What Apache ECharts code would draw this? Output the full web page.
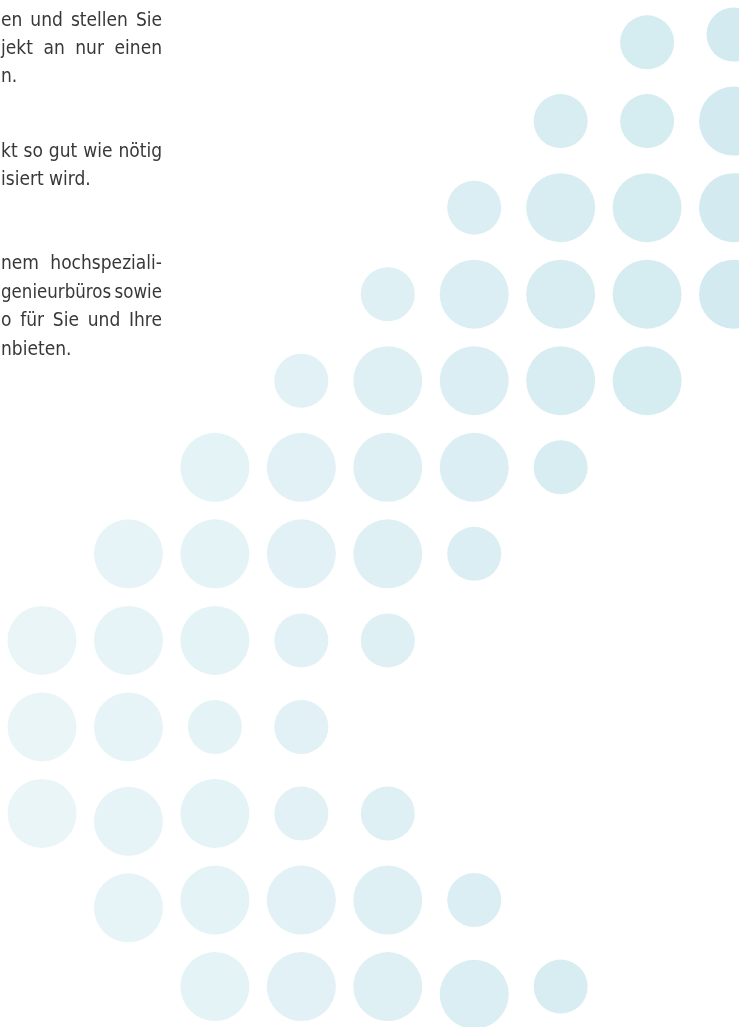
<!DOCTYPE html>
<html>
<head>
<meta charset="utf-8">
<style>
html,body{margin:0;padding:0;background:#ffffff;}
#chart{width:739px;height:1027px;}
</style>
<script src="https://cdn.jsdelivr.net/npm/echarts@6/dist/echarts.min.js"></script>
</head>
<body>
<div id="chart"></div>
<script>
// ---- data: dot grid (column index, row index, dot kind) ----
const dotCols  = [7, 8,  6, 7, 8,  5, 6, 7, 8,  4, 5, 6, 7, 8,  3, 4, 5, 6, 7,  2, 3, 4, 5, 6,  1, 2, 3, 4, 5,  0, 1, 2, 3, 4,  0, 1, 2, 3,  0, 1, 2, 3, 4,  1, 2, 3, 4, 5,  2, 3, 4, 5, 6];
const dotRows  = [0.09, 0,  1, 1, 1,  2, 2, 2, 2,  3, 3, 3, 3, 3,  4, 4, 4, 4, 4,  5, 5, 5, 5, 5,  6, 6, 6, 6, 6,  7, 7, 7, 7, 7,  8, 8, 8, 8,  9, 9.09, 9, 9, 9,  10.09, 10, 10, 10, 10,  11, 11, 11, 11.09, 11];
const dotKinds = ['S','S',  'S','S','L',  'S','L','L','L',  'S','L','L','L','L',  'S','L','L','L','L',  'L','L','L','L','S',  'L','L','L','L','S',  'L','L','L','S','S',  'L','L','S','S',  'L','L','L','S','S',  'L','L','L','L','S',  'L','L','L','L','S'];

// ---- text fragments (cropped paragraphs) ----
const textLines = ['en und stellen Sie', 'jekt an nur einen', 'n.', 'kt so gut wie nötig', 'isiert wird.', 'nem hochspeziali-', 'genieurbüros sowie', 'o für Sie und Ihre', 'nbieten.'];
const textJustified = [true, true, false, true, false, true, true, true, false];

// ---- layout / style ----
const textBaselines = [27, 55, 83, 158, 186, 270, 298.5, 327, 355.5];
const FONT_FAMILY = '"DejaVu Sans Condensed", "DejaVu Sans", sans-serif';
const FONT_SIZE = 19;
const FONT = FONT_SIZE + 'px ' + FONT_FAMILY;
const TEXT_LEFT = 1, TEXT_RIGHT = 162, MIN_GAP = 3.5;
const TEXT_COLOR = '#383838';
const kindSize = {L: 69, S: 54};

const chart = echarts.init(document.getElementById('chart'), null, {renderer: 'canvas'});

const dotData = dotCols.map((c, i) => ({
  value: [c, dotRows[i]],
  symbolSize: kindSize[dotKinds[i]]
}));

// build justified text elements
const mctx = document.createElement('canvas').getContext('2d');
mctx.font = FONT;
const graphics = [];
textLines.forEach((line, li) => {
  const y = textBaselines[li] - 0.297 * FONT_SIZE;
  if (!textJustified[li]) {
    graphics.push({type: 'text', x: TEXT_LEFT, y: y, silent: true,
      style: {text: line, font: FONT, fill: TEXT_COLOR, align: 'left', verticalAlign: 'middle'}});
    return;
  }
  const words = line.split(' ');
  const widths = words.map(w => mctx.measureText(w).width);
  const total = widths.reduce((a, b) => a + b, 0);
  const avail = TEXT_RIGHT - TEXT_LEFT;
  let gap = (avail - total) / (words.length - 1);
  let sx = 1;
  if (gap < MIN_GAP) {
    gap = MIN_GAP;
    sx = avail / (total + MIN_GAP * (words.length - 1));
  }
  let x = 0;
  words.forEach((w, wi) => {
    graphics.push({type: 'text', x: TEXT_LEFT + x * sx, y: y, scaleX: sx, silent: true,
      style: {text: w, font: FONT, fill: TEXT_COLOR, align: 'left', verticalAlign: 'middle'}});
    x += widths[wi] + gap;
  });
});

chart.setOption({
  animation: false,
  backgroundColor: '#ffffff',
  grid: {left: 0, right: 0, top: 0, bottom: 0, containLabel: false},
  xAxis: {type: 'value', min: -0.486, max: 8.063, show: false},
  yAxis: {type: 'value', min: -0.399, max: 11.467, inverse: true, show: false},
  visualMap: {
    type: 'continuous', show: false, dimension: 0, min: -0.5, max: 8.1,
    inRange: {color: ['#ebf6f8', '#d2eaf0']}
  },
  series: [{
    type: 'scatter',
    symbol: 'circle',
    silent: true,
    data: dotData,
    itemStyle: {opacity: 1}
  }],
  graphic: {elements: graphics}
});
</script>
</body>
</html>
